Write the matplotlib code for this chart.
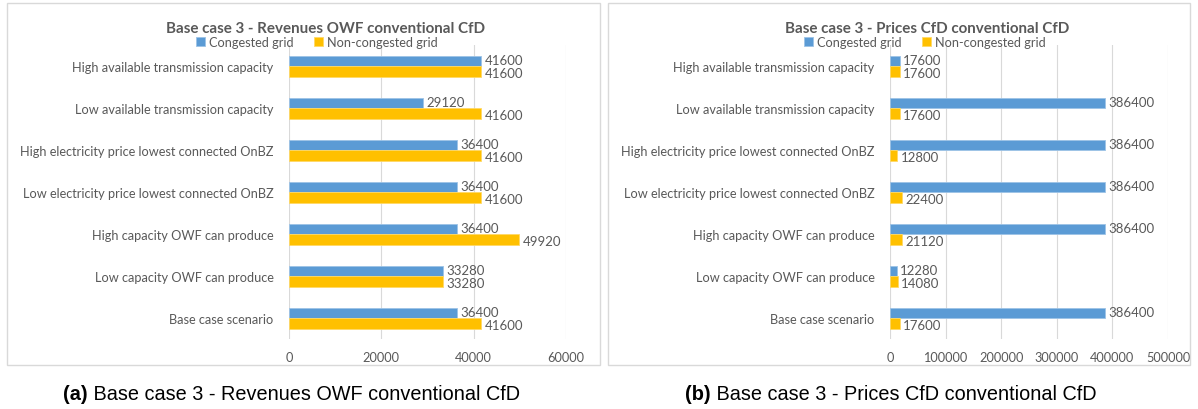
import matplotlib.pyplot as plt
from matplotlib.patches import Rectangle

# --- Data ---
categories = [
    'High available transmission capacity',
    'Low available transmission capacity',
    'High electricity price lowest connected OnBZ',
    'Low electricity price lowest connected OnBZ',
    'High capacity OWF can produce',
    'Low capacity OWF can produce',
    'Base case scenario',
]
series_names = ['Congested grid', 'Non-congested grid']

rev_congested = [41600, 29120, 36400, 36400, 36400, 33280, 36400]
rev_noncongested = [41600, 41600, 41600, 41600, 49920, 33280, 41600]

price_congested = [17600, 386400, 386400, 386400, 386400, 12280, 386400]
price_noncongested = [17600, 17600, 12800, 22400, 21120, 14080, 17600]

titles = ['Base case 3 - Revenues OWF conventional CfD',
          'Base case 3 - Prices CfD conventional CfD']
captions = [('(a)', ' Base case 3 - Revenues OWF conventional CfD'),
            ('(b)', ' Base case 3 - Prices CfD conventional CfD')]

# --- Style ---
BLUE = '#5B9BD5'
YELLOW = '#FFC000'
GRID = '#D9D9D9'
TEXT = '#595959'
FONT = ['Lato', 'DejaVu Sans']
FS = 9.2

W, H = 1198, 410
fig = plt.figure(figsize=(W / 100, H / 100), dpi=100)


def fx(px):
    return px / W


def fy(py):
    return 1 - py / H


def draw_panel(ax_px, box_px, title_xy, legend_xy, cong, noncong, xmax, step, title):
    # outer box around the chart
    bx0, by0, bx1, by1 = box_px
    fig.patches.append(Rectangle((fx(bx0), fy(by1)), fx(bx1 - bx0), (by1 - by0) / H,
                                 transform=fig.transFigure, fill=False,
                                 edgecolor=GRID, linewidth=1.0))
    x0, y0, x1, y1 = ax_px
    ax = fig.add_axes([fx(x0), fy(y1), fx(x1 - x0), (y1 - y0) / H])

    n = len(categories)
    pos = list(range(n))
    h = 0.25
    ax.barh([p - h / 2 for p in pos], cong, height=h, color=BLUE,
            edgecolor='#9DC3E6', linewidth=0.6, label=series_names[0], zorder=3)
    ax.barh([p + h / 2 for p in pos], noncong, height=h, color=YELLOW,
            edgecolor='#FFD966', linewidth=0.6, label=series_names[1], zorder=3)

    # value labels
    for p, v in zip(pos, cong):
        ax.text(v + xmax * 0.012, p - h / 2 - 0.02, str(v), va='center', ha='left',
                fontsize=FS + 0.3, color=TEXT, family=FONT)
    for p, v in zip(pos, noncong):
        ax.text(v + xmax * 0.012, p + h / 2 + 0.04, str(v), va='center', ha='left',
                fontsize=FS + 0.3, color=TEXT, family=FONT)

    ax.set_ylim(n - 0.5, -0.5)
    ax.set_xlim(0, xmax)
    ax.set_xticks(range(0, xmax + 1, step))
    ax.set_yticks(pos)
    ax.set_yticklabels(categories)
    ax.grid(axis='x', color=GRID, linewidth=0.8, zorder=0)
    ax.set_axisbelow(True)
    for s in ax.spines.values():
        s.set_visible(False)
    ax.tick_params(length=0, colors=TEXT, labelsize=FS)
    ax.tick_params(axis='y', pad=11)
    ax.tick_params(axis='x', pad=9)
    for lab in ax.get_xticklabels() + ax.get_yticklabels():
        lab.set_family(FONT)

    fig.text(fx(title_xy[0]), fy(title_xy[1]), title, ha='center', va='center',
             fontsize=10.9, fontweight='bold', color=TEXT, family=FONT)
    handles, labels = ax.get_legend_handles_labels()
    fig.legend(handles, labels, loc='center',
               bbox_to_anchor=(fx(legend_xy[0]), fy(legend_xy[1])),
               ncol=2, frameon=False, handlelength=0.7, handleheight=0.7,
               columnspacing=1.6, handletextpad=0.3, borderpad=0,
               prop={'family': FONT, 'size': FS}, labelcolor=TEXT)
    return ax


draw_panel((289, 46, 566, 340), (7, 4, 600, 366), (326, 29), (317, 43),
           rev_congested, rev_noncongested, 60000, 20000, titles[0])
draw_panel((890, 46, 1168, 340), (608, 4, 1190, 366), (927, 29), (925, 43),
           price_congested, price_noncongested, 500000, 100000, titles[1])

# --- Captions: bold "(a)" followed by regular text ---
for (bold, rest), cx in zip(captions, [63, 685]):
    t1 = fig.text(fx(cx), fy(395), bold, ha='left', va='center', fontsize=14.3,
                  fontweight='bold', family='Liberation Sans', color='black')
    fig.add_artist(plt.Annotation(rest, xy=(1, 0), xycoords=t1, ha='left', va='bottom',
                                  fontsize=14.3, family='Liberation Sans', color='black',
                                  annotation_clip=False))

fig.savefig('out.png', dpi=100)
